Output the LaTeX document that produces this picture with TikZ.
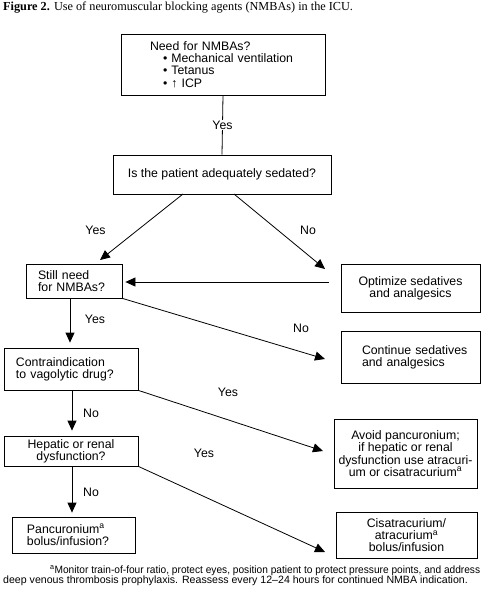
\documentclass[tikz,border=0pt]{standalone}
\usepackage{fontspec}
\setmainfont{Liberation Serif}
\newfontfamily\boxfont{Liberation Sans}
\usetikzlibrary{arrows.meta}
\begin{document}
\begin{tikzpicture}[x=1pt,y=-1pt,
  box/.style={draw, line width=0.8pt, font=\boxfont\fontsize{12.3}{12.3}\selectfont, inner ysep=0pt},
  lbl/.style={font=\boxfont\fontsize{12.3}{12.3}\selectfont, inner sep=1pt},
  arr/.style={-{Triangle[length=10pt,width=9pt]}, line width=0.8pt},
  ln/.style={line width=0.8pt}]
\useasboundingbox (0,0) rectangle (482,600);
% caption
\node[anchor=west, inner sep=0pt, font=\fontsize{12.25}{12.25}\selectfont] (cap) at (3,8) {\textbf{Figure 2.} Use of neuromuscular blocking agents (NMBAs) in the ICU.};
% boxes
\node[box, minimum width=204pt, minimum height=61pt, inner xsep=29pt, text width=146pt, align=left] (need) at (223,64.5)
 {\mbox{Need for NMBAs?}\\\mbox{\hspace*{13pt}\textbullet\ Mechanical ventilation}\\\mbox{\hspace*{13pt}\textbullet\ Tetanus}\\\mbox{\hspace*{13pt}\textbullet\ ↑ ICP}};
\node[box, minimum width=218pt, minimum height=39pt, align=center] (sed) at (222,174.5) {Is the patient adequately sedated?};
\node[box, minimum width=96pt, minimum height=34pt, inner xsep=12pt, text width=72pt, align=left] (still) at (74,281) {\mbox{Still need}\\\mbox{for NMBAs?}};
\node[box, minimum width=139pt, minimum height=48pt, align=center] (opt) at (410.5,288) {Optimize sedatives\\and analgesics};
\node[box, minimum width=134pt, minimum height=42pt, inner xsep=12pt, text width=110pt, align=left] (contra) at (71,369) {\mbox{Contraindication}\\\mbox{to vagolytic drug?}};
\node[box, minimum width=139pt, minimum height=52pt, inner xsep=21pt, text width=97pt, align=left] (cont) at (410.5,357) {\mbox{Continue sedatives}\\\mbox{and analgesics}};
\node[box, minimum width=134pt, minimum height=30pt, align=center] (hep) at (71,451) {Hepatic or renal\\dysfunction?};
\node[box, minimum width=143pt, minimum height=69pt, align=center] (avoid) at (405.5,453.5) {Avoid pancuronium;\\if hepatic or renal\\dysfunction use atracuri-\\um or cisatracurium\textsuperscript{a}};
\node[box, minimum width=123pt, minimum height=36pt, inner xsep=15pt, text width=93pt, align=left] (panc) at (73.5,535) {\mbox{Pancuronium\textsuperscript{a}}\\\mbox{bolus/infusion?}};
\node[box, minimum width=141pt, minimum height=46pt, align=center] (cis) at (406.5,535) {Cisatracurium/\\atracurium\textsuperscript{a}\\bolus/infusion};
% connector end points
\coordinate (s1) at (183,194);
\coordinate (t1) at (100,260);
\coordinate (s2) at (234,194);
\coordinate (t2) at (325,269);
\coordinate (t3) at (325,359);
\coordinate (t4) at (323,451);
\coordinate (t5) at (325,552);
% connectors
\draw[ln] (need.south) -- node[lbl, fill=white, pos=0.5] (y0) {Yes} (sed.north);
\draw[arr] (s1) -- (t1);
\draw[arr] (s2) -- (t2);
\draw[arr, shorten <=12pt, shorten >=3pt] (opt.west |- 0,282) -- (still.east |- 0,282);
\draw[arr, shorten >=5pt] (still.south -| 70,0) -- (contra.north -| 70,0);
\draw[arr] (still.south east) -- (t3);
\draw[arr, shorten >=5pt] (contra.south -| 72,0) -- (hep.north -| 72,0);
\draw[arr] (contra.south east) -- (t4);
\draw[arr, shorten >=4pt] (hep.south -| 72,0) -- (panc.north -| 72,0);
\draw[arr] (hep.south east) -- (t5);
% labels
\node[lbl] (y1) at (95.5,230) {Yes};
\node[lbl] (n1) at (308,230) {No};
\node[lbl] (y2) at (95,319) {Yes};
\node[lbl] (n2) at (301,328) {No};
\node[lbl] (y3) at (228,392) {Yes};
\node[lbl] (n3) at (91,413) {No};
\node[lbl] (y4) at (204,453) {Yes};
\node[lbl] (n4) at (91,492) {No};
% footnote
\node[anchor=base west, inner sep=0pt, align=left, font=\boxfont\fontsize{10.6}{10}\selectfont] (foot) at (3,583)
 {\makebox[473pt][r]{\scalebox{0.958}[1]{\textsuperscript{a}Monitor train-of-four ratio, protect eyes, position patient to protect pressure points, and address}\hspace*{-4pt}}\\\makebox[473pt][l]{deep venous thrombosis prophylaxis. Reassess every 12–24 hours for continued NMBA indication.}};
\end{tikzpicture}
\end{document}
